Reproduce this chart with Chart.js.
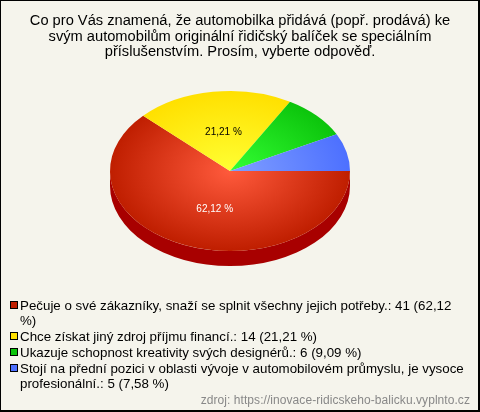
<!DOCTYPE html>
<html lang="cs">
<head>
<meta charset="UTF-8">
<title>Graf</title>
<script src="https://cdn.jsdelivr.net/npm/chart.js"></script>
<style>
    html, body { margin: 0; padding: 0; }
    #wrap {
        position: relative; width: 480px; height: 412px; box-sizing: border-box;
        background: #f5f4ec; overflow: hidden;
        font-family: "Liberation Sans", Arial, sans-serif; color: #000;
    }
    #frame { position: absolute; left: 0; top: 0; width: 480px; height: 412px; box-sizing: border-box; border: 1px solid #000; border-width: 1px 2px 2px 1px; pointer-events: none; }
    canvas { position: absolute; left: 0; top: 0; }
    #title { position: absolute; left: 0; width: 480px; top: 13px; text-align: center; font-size: 14.67px; line-height: 15.5px; }
    #legend { position: absolute; left: 20px; top: 298px; font-size: 13.33px; line-height: 15px; white-space: nowrap; }
    #legend div { position: relative; margin-bottom: 1px; }
    #legend i { position: absolute; left: -10px; top: 3px; width: 6px; height: 6px; border: 1px solid #000; }
    #source { position: absolute; right: 10px; top: 393px; font-size: 12px; letter-spacing: 0.06px; color: #888; }
</style>
</head>
<body>
<div id="wrap">
    <canvas id="pie" width="480" height="412"></canvas>
    <div id="title"></div>
    <div id="legend"></div>
    <div id="source"></div>
    <div id="frame"></div>
</div>
<script>
    const titleLines = [
        'Co pro Vás znamená, že automobilka přidává (popř. prodává) ke',
        'svým automobilům originální řidičský balíček se speciálním',
        'příslušenstvím. Prosím, vyberte odpověď.'
    ];
    const categories = [
        ['Pečuje o své zákazníky, snaží se splnit všechny jejich potřeby.: 41 (62,12', '%)'],
        ['Chce získat jiný zdroj příjmu financí.: 14 (21,21 %)'],
        ['Ukazuje schopnost kreativity svých designérů.: 6 (9,09 %)'],
        ['Stojí na přední pozici v oblasti vývoje v automobilovém průmyslu, je vysoce', 'profesionální.: 5 (7,58 %)']
    ];
    const values = [41, 14, 6, 5];
    const sliceLabels = ['62,12 %', '21,21 %', '', ''];
    const labelColors = ['#fff', '#000', '#000', '#000'];
    const labelShift = [7, 2, 0, 0];
    const innerColors = ['#ff5a3c', '#ffff33', '#33ff33', '#809fff'];
    const outerColors = ['#bf1e00', '#ffe000', '#0cc40c', '#4d70ff'];
    const sideColors = ['#a80000', '#c0a000', '#009000', '#3050c0'];
    const swatches = ['#bf1e00', '#ffe000', '#0cc40c', '#4d70ff'];
    const source = 'zdroj: https://inovace-ridicskeho-balicku.vyplnto.cz';

    const squash = 2 / 3;
    const depth = 15;

    document.getElementById('title').innerHTML = titleLines.join('<br>');
    document.getElementById('source').textContent = source;
    const legendEl = document.getElementById('legend');
    categories.forEach(function(lines, i) {
        const row = document.createElement('div');
        const box = document.createElement('i');
        box.style.background = swatches[i];
        row.appendChild(box);
        lines.forEach(function(line, k) {
            if (k > 0) row.appendChild(document.createElement('br'));
            row.appendChild(document.createTextNode(line));
        });
        legendEl.appendChild(row);
    });

    // the library only draws round pies, so the tilt is done by squashing the context
    const tiltPlugin = {
        id: 'tilt',
        beforeDatasetsDraw(chart) {
            const ctx = chart.ctx;
            chart.getDatasetMeta(0).data.forEach(function(arc, i) {
                const a = Math.max(arc.startAngle, 0);
                const b = Math.min(arc.endAngle, Math.PI);
                if (a >= b) return;
                const rx = arc.outerRadius, ry = rx * squash;
                ctx.beginPath();
                ctx.ellipse(arc.x, arc.y, rx, ry, 0, a, b);
                ctx.ellipse(arc.x, arc.y + depth, rx, ry, 0, b, a, true);
                ctx.closePath();
                ctx.fillStyle = sideColors[i];
                ctx.fill();
            });
            const first = chart.getDatasetMeta(0).data[0];
            ctx.save();
            ctx.translate(first.x, first.y);
            ctx.scale(1, squash);
            ctx.translate(-first.x, -first.y);
        },
        afterDatasetsDraw(chart) {
            const ctx = chart.ctx;
            ctx.restore();
            ctx.font = '10px "Liberation Sans", Arial, sans-serif';
            ctx.textAlign = 'center';
            ctx.textBaseline = 'middle';
            chart.getDatasetMeta(0).data.forEach(function(arc, i) {
                if (!sliceLabels[i]) return;
                const mid = (arc.startAngle + arc.endAngle) / 2;
                const r = arc.outerRadius / 2;
                ctx.fillStyle = labelColors[i];
                ctx.fillText(sliceLabels[i], arc.x + r * Math.cos(mid) + labelShift[i], arc.y + r * squash * Math.sin(mid) + 1);
            });
        }
    };

    function sliceFill(c) {
        const area = c.chart.chartArea;
        if (!area) return outerColors[c.dataIndex];
        const cx = (area.left + area.right) / 2;
        const cy = (area.top + area.bottom) / 2;
        const g = c.chart.ctx.createRadialGradient(cx, cy, 0, cx, cy, 120);
        g.addColorStop(0, innerColors[c.dataIndex]);
        g.addColorStop(1, outerColors[c.dataIndex]);
        return g;
    }

    new Chart(document.getElementById('pie').getContext('2d'), {
        type: 'pie',
        data: {
            labels: categories.map(function(l) { return l.join(' '); }),
            datasets: [{ data: values, backgroundColor: sliceFill, borderWidth: 0 }]
        },
        plugins: [tiltPlugin],
        options: {
            responsive: false,
            animation: false,
            rotation: 90,
            layout: { padding: { left: 110, right: 130, top: 51, bottom: 121 } },
            plugins: { legend: { display: false }, title: { display: false }, tooltip: { enabled: false } }
        }
    });
</script>
</body>
</html>
